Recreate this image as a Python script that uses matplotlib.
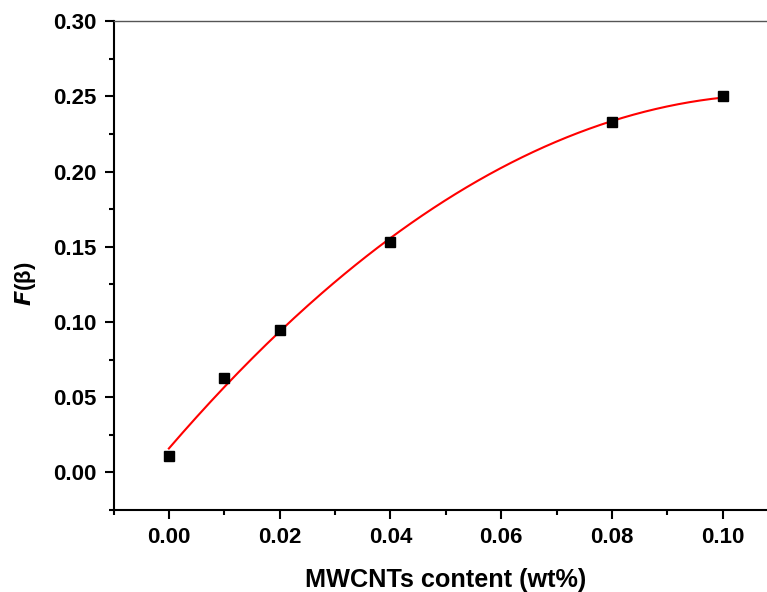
import numpy as np
import matplotlib
matplotlib.use("Agg")
import matplotlib.pyplot as plt
from matplotlib.ticker import MultipleLocator

plt.rcParams['font.family'] = ['Liberation Sans', 'DejaVu Sans']

content = [0.00, 0.01, 0.02, 0.04, 0.08, 0.10]
f_beta = [0.011, 0.063, 0.095, 0.153, 0.233, 0.250]

W, H = 767, 592
fig = plt.figure(figsize=(W/100, H/100), dpi=100)
x0, x1 = 113.5, 778
y_top, y_bot = 21.3, 510
ax = fig.add_axes([x0/W, 1 - y_bot/H, (x1 - x0)/W, (y_bot - y_top)/H])

coef = np.polyfit(content, f_beta, 2)
xf = np.linspace(min(content), max(content), 200)
ax.plot(xf, np.polyval(coef, xf), color='#ff0000', lw=1.5, zorder=2)
ax.plot(content, f_beta, 's', color='black', ms=7.8, zorder=3, clip_on=False)

ax.set_xlim(-0.01, 0.11)
ax.set_ylim(-0.025, 0.30)
ax.xaxis.set_minor_locator(MultipleLocator(0.01))
ax.yaxis.set_minor_locator(MultipleLocator(0.025))
ax.set_xticks([0, 0.02, 0.04, 0.06, 0.08, 0.10])
ax.set_xticklabels(['0.00', '0.02', '0.04', '0.06', '0.08', '0.10'])
ax.set_yticks([0, 0.05, 0.10, 0.15, 0.20, 0.25, 0.30])
ax.set_yticklabels(['0.00', '0.05', '0.10', '0.15', '0.20', '0.25', '0.30'])

for s in ['left', 'bottom']:
    ax.spines[s].set_linewidth(1.5)
ax.spines['top'].set_linewidth(1.0)
ax.spines['top'].set_color('#555555')
ax.spines['right'].set_visible(False)

ax.tick_params(which='major', direction='out', length=6.5, width=1.5, labelsize=16, pad=6)
ax.tick_params(which='minor', direction='out', length=3.6, width=1.5)
for lab in ax.get_xticklabels() + ax.get_yticklabels():
    lab.set_fontweight('bold')

ax.set_xlabel('MWCNTs content (wt%)', fontsize=18.2, fontweight='bold', labelpad=14)
ax.set_ylabel(r'$\boldsymbol{F}$(β)', fontsize=16, fontweight='bold')
ax.yaxis.set_label_coords((38 - x0) / (x1 - x0), (y_bot - 284) / (y_bot - y_top))

fig.savefig('out.png', dpi=100)
